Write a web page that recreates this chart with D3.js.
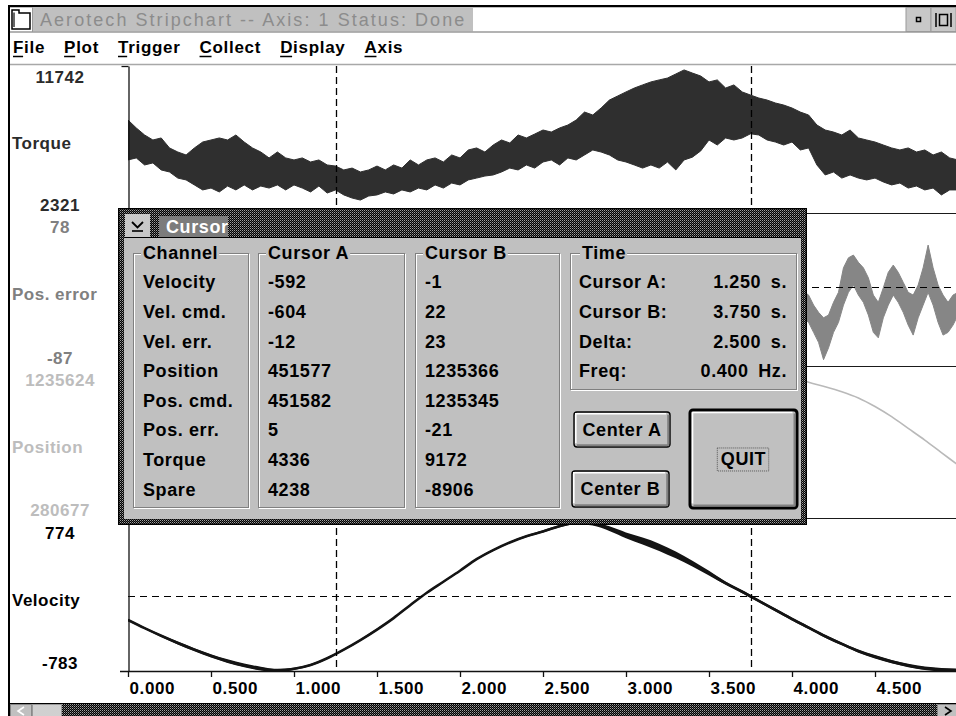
<!DOCTYPE html>
<html>
<head>
<meta charset="utf-8">
<script src="https://cdn.jsdelivr.net/npm/d3@7"></script>
<style>
  html, body { margin: 0; padding: 0; background: #ffffff; }
  svg { display: block; }
  svg text { font-family: "Liberation Sans", Arial, sans-serif; }
</style>
</head>
<body>
<svg id="chart" width="956" height="716"></svg>
<script>
// ---------------- Channel data ----------------
const channelNames  = ["Torque", "Pos. error", "Position", "Velocity"];
const channelMax    = [11742, 78, 1235624, 774];
const channelMin    = [2321, -87, 280677, -783];

// Time axis (seconds)
const timeTicks   = [0, 0.5, 1, 1.5, 2, 2.5, 3, 3.5, 4, 4.5];
const cursorTimes = [1.25, 3.75];

// Torque: upper / lower envelope of the noisy trace, one pair every 0.05 s from 0 to 5 s
const torqueHigh = [
  8280, 7770, 7320, 7000, 7130, 6490, 6230, 6040, 6490, 6870,
  7000, 7130, 7000, 7320, 6870, 6490, 6230, 5850, 6230, 5850,
  5720, 5850, 5590, 5720, 5400, 5330, 5080, 5200, 4950, 5080,
  5330, 5080, 5400, 5200, 5720, 5400, 5720, 5850, 5590, 6040,
  5850, 6360, 6490, 6230, 6680, 7000, 6810, 7320, 7130, 7380,
  7640, 7510, 7770, 7960, 8280, 8790, 8600, 9050, 9560, 9820,
  10080, 10330, 10530, 10720, 10850, 10970, 11230, 11490, 11290, 11100,
  10720, 10850, 10330, 10530, 10080, 9880, 9690, 9560, 9370, 9240,
  9050, 8790, 8600, 7960, 7640, 7510, 7320, 7640, 7130, 7000,
  6870, 6680, 6490, 6360, 6490, 6230, 6360, 6040, 6230, 5850,
  5720
];
const torqueLow = [
  5720, 5850, 5400, 5530, 5080, 4950, 4560, 4440, 4120, 3800,
  3920, 3670, 4050, 3800, 4120, 3800, 4050, 3920, 4120, 3800,
  4120, 3920, 3670, 4050, 3600, 3800, 3480, 3280, 3150, 3410,
  3480, 3670, 3540, 3800, 3670, 3920, 3800, 4120, 3920, 4240,
  4120, 4440, 4560, 4690, 4760, 4950, 5200, 5080, 5400, 5200,
  5590, 5720, 5400, 5850, 5720, 6040, 6360, 6230, 6040, 5720,
  5590, 5400, 5200, 5400, 5200, 5590, 5080, 5720, 5900, 6300,
  7000, 6680, 7130, 7000, 7130, 7400, 7320, 7000, 6870, 6680,
  6870, 6360, 6490, 5400, 4760, 4950, 4560, 4760, 4560, 4440,
  4560, 4310, 4120, 4240, 3920, 4050, 3800, 3920, 3480, 3800,
  3800
];
const torqueStep = 0.05;

// Position error trace (visible tail), pairs every 0.03 s from 4.07 s
const posErrStart = 4.07;
const posErrStep  = 0.03;
const posErrHigh = [-5, -9, -20, -28, -34, -31, -17, -6, 21, 32, 35, 27, 21, 10, -9, -17,
                    -1, 16, 24, 16, 5, -6, -9, 2, 21, 46, 21, 2, -9, -17, -9, -6];
const posErrLow  = [-35, -39, -50, -61, -80, -67, -50, -39, -20, -6, 2, -9, -17, -31, -50, -56,
                    -34, -20, -9, -17, -28, -42, -53, -34, -20, -6, -20, -39, -53, -50, -42, -31];

// Position trace (visible tail)
const positionTimes  = [4.0, 4.1, 4.2, 4.3, 4.4, 4.5, 4.6, 4.7, 4.8, 4.9, 5.0];
const positionValues = [1195000, 1150000, 1122000, 1090000, 1050000, 995000, 930000, 855000, 780000, 700000, 620000];

// Velocity, one sample every 0.1 s from 0 to 5 s, with the half-width of its noise band
const velocityStep = 0.1;
const velocityValues = [
  -250, -335, -415, -490, -560, -625, -680, -725, -758, -778,
  -760, -720, -650, -560, -460, -350, -230, -95, 35, 150,
  265, 385, 480, 560, 625, 675, 730, 765, 755, 705,
  635, 575, 510, 430, 340, 240, 135, 45, -50, -145,
  -240, -330, -420, -500, -575, -635, -685, -725, -755, -770,
  -775
];
const velocitySpread = [
  10, 10, 12, 15, 16, 18, 20, 20, 20, 18,
  12, 10, 10, 10, 10, 10, 8, 8, 8, 8,
  8, 8, 8, 8, 10, 12, 12, 14, 18, 24,
  30, 36, 38, 36, 30, 24, 18, 15, 15, 15,
  15, 15, 15, 15, 16, 18, 18, 18, 18, 18,
  18
];

// Cursor read-out
const readoutChannels = ["Velocity", "Vel. cmd.", "Vel. err.", "Position", "Pos. cmd.", "Pos. err.", "Torque", "Spare"];
const cursorAValues   = [-592, -604, -12, 451577, 451582, 5, 4336, 4238];
const cursorBValues   = [-1, 22, 23, 1235366, 1235345, -21, 9172, -8906];

const menuItems = ["File", "Plot", "Trigger", "Collect", "Display", "Axis"];
const windowTitle = "Aerotech Stripchart -- Axis: 1 Status: Done";

// ---------------- Layout & style ----------------
const W = 956, H = 716;
const panels = [
  { top: 66,  bottom: 213, fill: "#2f2f2f", label: "#2b2b2b" },
  { top: 216, bottom: 366, fill: "#868686", label: "#808080" },
  { top: 369, bottom: 518, fill: "#b9b9b9", label: "#bdbdbd" },
  { top: 522, bottom: 671, fill: "#141414", label: "#000000" }
];
const plotLeft = 128, axisY = 671;
const uiFont = '"Liberation Sans", Arial, sans-serif';
const intText = v => String(v);   // plain ASCII hyphen for negatives

const svg = d3.select("#chart");
const defs = svg.append("defs");

// dithered fill used by the dialog frame and the scroll track
const dither = defs.append("pattern").attr("id", "dither")
  .attr("width", 2).attr("height", 2).attr("patternUnits", "userSpaceOnUse");
dither.append("rect").attr("width", 2).attr("height", 2).attr("fill", "#000");
dither.append("rect").attr("x", 0).attr("y", 0).attr("width", 1).attr("height", 1).attr("fill", "#a0a0a0");
dither.append("rect").attr("x", 1).attr("y", 1).attr("width", 1).attr("height", 1).attr("fill", "#505050");

defs.append("clipPath").attr("id", "plotClip").append("rect")
  .attr("x", plotLeft).attr("y", 66).attr("width", W - plotLeft).attr("height", axisY - 66);

svg.append("rect").attr("width", W).attr("height", H).attr("fill", "#fff");

// ---------------- Scales ----------------
const x = d3.scaleLinear().domain([0, 5]).range([plotLeft, 958]);
const y = panels.map((p, i) => d3.scaleLinear().domain([channelMin[i], channelMax[i]]).range([p.bottom, p.top]));

const plot = svg.append("g").attr("clip-path", "url(#plotClip)");

// Torque band
const torqueData = torqueHigh.map((h, i) => ({ t: i * torqueStep, hi: h, lo: torqueLow[i] }));
plot.append("path").datum(torqueData)
  .attr("d", d3.area().x(d => x(d.t)).y0(d => y[0](d.lo)).y1(d => y[0](d.hi)))
  .attr("fill", panels[0].fill).attr("stroke", panels[0].fill).attr("stroke-width", 1);

// Position error band
const posErrData = posErrHigh.map((h, i) => ({ t: posErrStart + i * posErrStep, hi: h, lo: posErrLow[i] }));
plot.append("path").datum(posErrData)
  .attr("d", d3.area().x(d => x(d.t)).y0(d => y[1](d.lo)).y1(d => y[1](d.hi)))
  .attr("fill", panels[1].fill).attr("stroke", panels[1].fill).attr("stroke-width", 1);

// Position
const positionData = positionTimes.map((t, i) => ({ t, v: positionValues[i] }));
plot.append("path").datum(positionData)
  .attr("d", d3.line().x(d => x(d.t)).y(d => y[2](d.v)).curve(d3.curveMonotoneX))
  .attr("fill", "none").attr("stroke", panels[2].fill).attr("stroke-width", 1.6);

// Velocity: noise band plus centre trace
const velocityData = velocityValues.map((v, i) => ({ t: i * velocityStep, v, s: velocitySpread[i] }));
plot.append("path").datum(velocityData)
  .attr("d", d3.area().x(d => x(d.t)).y0(d => y[3](d.v - d.s)).y1(d => y[3](d.v + d.s)).curve(d3.curveMonotoneX))
  .attr("fill", panels[3].fill);
plot.append("path").datum(velocityData)
  .attr("d", d3.line().x(d => x(d.t)).y(d => y[3](d.v)).curve(d3.curveMonotoneX))
  .attr("fill", "none").attr("stroke", panels[3].fill).attr("stroke-width", 2.6);

// Panel separators
panels.slice(0, 3).forEach(p => {
  svg.append("line").attr("x1", plotLeft).attr("x2", W).attr("y1", p.bottom + 0.5).attr("y2", p.bottom + 0.5)
    .attr("stroke", "#1a1a1a").attr("stroke-width", 1.2);
});

// Zero lines where a channel's range crosses zero
panels.forEach((p, i) => {
  if (channelMin[i] < 0 && channelMax[i] > 0) {
    const yz = Math.round(y[i](0)) + 0.5;
    svg.append("line").attr("x1", plotLeft).attr("x2", W).attr("y1", yz).attr("y2", yz)
      .attr("stroke", "#000").attr("stroke-width", 1.2).attr("stroke-dasharray", "7,5");
  }
});

// Cursor lines
cursorTimes.forEach(t => {
  const xc = Math.round(x(t)) + 0.5;
  svg.append("line").attr("x1", xc).attr("x2", xc).attr("y1", 66).attr("y2", axisY)
    .attr("stroke", "#000").attr("stroke-width", 1.3).attr("stroke-dasharray", "7,4");
});

// Frame axis (left) and time axis (bottom)
const yFrame = d3.scaleLinear().domain([0, 1]).range([axisY, 66]);
const gLeft = svg.append("g").attr("transform", `translate(${plotLeft + 0.5},0)`)
  .call(d3.axisLeft(yFrame).tickValues([1]).tickFormat("").tickSize(7).tickSizeOuter(0));
gLeft.selectAll("path, line").attr("stroke", "#111").attr("stroke-width", 1.3);

svg.append("line").attr("x1", 120).attr("x2", W).attr("y1", axisY + 0.5).attr("y2", axisY + 0.5)
  .attr("stroke", "#111").attr("stroke-width", 1.4);
const gx = svg.append("g").attr("transform", `translate(0,${axisY})`)
  .call(d3.axisBottom(x).tickValues(timeTicks).tickFormat(d3.format(".3f")).tickSize(6).tickPadding(5).tickSizeOuter(0));
gx.select(".domain").remove();
gx.selectAll("line").attr("stroke", "#111").attr("stroke-width", 1.3);
gx.selectAll("text").attr("text-anchor", "start").attr("x", 1)
  .attr("fill", "#000").style("font-family", uiFont).style("font-weight", "bold")
  .style("font-size", "17px").style("letter-spacing", "0.6px");

// Channel labels on the left
panels.forEach((p, i) => {
  const g = svg.append("g").attr("fill", p.label)
    .style("font-weight", "bold").style("font-size", "17px").style("letter-spacing", "0.5px");
  g.append("text").attr("x", 60).attr("y", p.top + 11).attr("dy", "0.36em").attr("text-anchor", "middle")
    .text(intText(channelMax[i]));
  g.append("text").attr("x", 12).attr("y", (p.top + p.bottom) / 2 + 3).attr("dy", "0.36em")
    .text(channelNames[i]);
  g.append("text").attr("x", 60).attr("y", p.bottom - 8).attr("dy", "0.36em").attr("text-anchor", "middle")
    .text(intText(channelMin[i]));
});

// ---------------- Window chrome ----------------
// top border and left border
svg.append("rect").attr("x", 8).attr("y", 5).attr("width", W - 8).attr("height", 2.5).attr("fill", "#000");
svg.append("rect").attr("x", 8).attr("y", 5).attr("width", 2).attr("height", H - 5).attr("fill", "#000");

// caption bar
svg.append("rect").attr("x", 10).attr("y", 7.5).attr("width", W - 10).attr("height", 24).attr("fill", "#fff");
svg.append("rect").attr("x", 33).attr("y", 7.5).attr("width", 440).attr("height", 24).attr("fill", "#c0c0c0");
svg.append("line").attr("x1", 10).attr("x2", W).attr("y1", 32).attr("y2", 32).attr("stroke", "#9a9a9a").attr("stroke-width", 1.5);
svg.append("line").attr("x1", 32.5).attr("x2", 32.5).attr("y1", 7.5).attr("y2", 32).attr("stroke", "#9a9a9a");
// control-menu icon
svg.append("path").attr("d", "M12,10 H19 V13 H30 V29 H12 Z").attr("fill", "#fff").attr("stroke", "#000").attr("stroke-width", 1.5);
svg.append("path").attr("d", "M14,12.5 V27").attr("stroke", "#000").attr("stroke-width", 1.2);
svg.append("text").attr("x", 40).attr("y", 26).attr("fill", "#8c8c8c")
  .style("font-size", "18px").style("letter-spacing", "2.05px").text(windowTitle);
// min / max buttons
svg.append("rect").attr("x", 906).attr("y", 7.5).attr("width", 25).attr("height", 24).attr("fill", "#c8c8c8").attr("stroke", "#9a9a9a");
svg.append("rect").attr("x", 916.5).attr("y", 17.5).attr("width", 4).attr("height", 4).attr("fill", "none").attr("stroke", "#000").attr("stroke-width", 1.5);
svg.append("rect").attr("x", 931).attr("y", 7.5).attr("width", 25).attr("height", 24).attr("fill", "#c8c8c8").attr("stroke", "#9a9a9a");
svg.append("path").attr("d", "M936,13 V27 M951,13 V27").attr("stroke", "#000").attr("stroke-width", 1.5);
svg.append("rect").attr("x", 939.5).attr("y", 14.5).attr("width", 8).attr("height", 11).attr("fill", "none").attr("stroke", "#000").attr("stroke-width", 1.5);

// menu bar
const menuG = svg.append("g").style("font-weight", "bold").style("font-size", "17px").style("letter-spacing", "0.7px");
let mx = 13;
menuItems.forEach(m => {
  const t = menuG.append("text").attr("x", mx).attr("y", 53).attr("fill", "#000").text(m);
  const w = t.node().getComputedTextLength();
  const first = t.node().getSubStringLength(0, 1);
  menuG.append("line").attr("x1", mx).attr("x2", mx + first - 1).attr("y1", 56.5).attr("y2", 56.5)
    .attr("stroke", "#000").attr("stroke-width", 1.5);
  mx += w + 19;
});
svg.append("line").attr("x1", 10).attr("x2", W).attr("y1", 64.5).attr("y2", 64.5).attr("stroke", "#a8a8a8").attr("stroke-width", 1.5);

// horizontal scroll bar
svg.append("rect").attr("x", 10).attr("y", 703).attr("width", W - 10).attr("height", 13).attr("fill", "url(#dither)");
svg.append("rect").attr("x", 10).attr("y", 703).attr("width", W - 10).attr("height", 1).attr("fill", "#000");
svg.append("rect").attr("x", 10.5).attr("y", 704.5).attr("width", 21).attr("height", 12).attr("fill", "#c0c0c0").attr("stroke", "#888");
svg.append("path").attr("d", "M24,707 L18,711 L24,715").attr("fill", "none").attr("stroke", "#fff").attr("stroke-width", 1.6);
svg.append("rect").attr("x", 32.5).attr("y", 704.5).attr("width", 29).attr("height", 12).attr("fill", "#d0d0d0").attr("stroke", "#999");
svg.append("rect").attr("x", 937.5).attr("y", 704.5).attr("width", 19).attr("height", 12).attr("fill", "#c0c0c0").attr("stroke", "#888");
svg.append("path").attr("d", "M945,707 L951,711 L945,715").attr("fill", "none").attr("stroke", "#000").attr("stroke-width", 1.6);

// ---------------- Cursor dialog ----------------
const dlg = svg.append("g").style("font-weight", "bold").style("font-size", "18px").style("letter-spacing", "0.6px");
dlg.append("rect").attr("x", 118).attr("y", 208).attr("width", 689).attr("height", 317).attr("fill", "url(#dither)");
dlg.append("rect").attr("x", 118.5).attr("y", 208.5).attr("width", 688).attr("height", 316).attr("fill", "none").attr("stroke", "#000");
dlg.append("rect").attr("x", 124).attr("y", 238).attr("width", 677).attr("height", 281).attr("fill", "#c0c0c0");
dlg.append("line").attr("x1", 124).attr("x2", 801).attr("y1", 237.5).attr("y2", 237.5).attr("stroke", "#000");

// control box and caption
dlg.append("rect").attr("x", 125).attr("y", 214).attr("width", 25).attr("height", 23).attr("fill", "#c8c8c8");
dlg.append("path").attr("d", "M132,222 L137.5,227.5 L143,222").attr("fill", "none").attr("stroke", "#000").attr("stroke-width", 1.8);
dlg.append("line").attr("x1", 132).attr("x2", 143).attr("y1", 231).attr("y2", 231).attr("stroke", "#000").attr("stroke-width", 1.6);
dlg.append("rect").attr("x", 159).attr("y", 216).attr("width", 69).attr("height", 21).attr("fill", "#7c7c7c");
dlg.append("text").attr("x", 166).attr("y", 226.5).attr("dy", "0.36em").attr("fill", "#fff").text("Cursor");

function groupBox(gx0, gy0, gw, gh, title, tx) {
  dlg.append("rect").attr("x", gx0 + 1.5).attr("y", gy0 + 1.5).attr("width", gw).attr("height", gh)
    .attr("fill", "none").attr("stroke", "#fff");
  dlg.append("rect").attr("x", gx0 + 0.5).attr("y", gy0 + 0.5).attr("width", gw).attr("height", gh)
    .attr("fill", "none").attr("stroke", "#808080");
  const bg = dlg.append("rect").attr("fill", "#c0c0c0");
  const t = dlg.append("text").attr("x", tx).attr("y", gy0).attr("dy", "0.36em").attr("fill", "#000").text(title);
  const bb = t.node().getBBox();
  bg.attr("x", bb.x - 2).attr("y", gy0 - 3).attr("width", bb.width + 3).attr("height", 6);
}

const rowY = i => 282 + i * 29.6;

groupBox(133, 253, 115, 254, "Channel", 143);
groupBox(258, 253, 146, 254, "Cursor A", 268);
groupBox(415, 253, 144, 254, "Cursor B", 425);
groupBox(570, 253, 226, 136, "Time", 582);

readoutChannels.forEach((c, i) => {
  dlg.append("text").attr("x", 143).attr("y", rowY(i)).attr("dy", "0.36em").text(c);
  dlg.append("text").attr("x", 268).attr("y", rowY(i)).attr("dy", "0.36em").text(intText(cursorAValues[i]));
  dlg.append("text").attr("x", 425).attr("y", rowY(i)).attr("dy", "0.36em").text(intText(cursorBValues[i]));
});

const delta = cursorTimes[1] - cursorTimes[0];
const timeRows = [
  ["Cursor A:", d3.format(".3f")(cursorTimes[0]) + " s."],
  ["Cursor B:", d3.format(".3f")(cursorTimes[1]) + " s."],
  ["Delta:",    d3.format(".3f")(delta) + " s."],
  ["Freq:",     d3.format(".3f")(1 / delta) + " Hz."]
];
timeRows.forEach((r, i) => {
  dlg.append("text").attr("x", 579).attr("y", rowY(i)).attr("dy", "0.36em").text(r[0]);
  dlg.append("text").attr("x", 787).attr("y", rowY(i)).attr("dy", "0.36em").attr("text-anchor", "end")
    .style("word-spacing", "4px").text(r[1]);
});

function button(bx, by, bw, bh, label, isDefault) {
  const sw = isDefault ? 3 : 1.4;
  dlg.append("rect").attr("x", bx).attr("y", by).attr("width", bw).attr("height", bh).attr("rx", 3)
    .attr("fill", "#c0c0c0").attr("stroke", "#000").attr("stroke-width", sw);
  const k = isDefault ? 2.5 : 1.8;
  dlg.append("path").attr("d", `M${bx + k},${by + bh - k - 2} V${by + k} H${bx + bw - k - 2}`)
    .attr("fill", "none").attr("stroke", "#fff").attr("stroke-width", 1.6);
  dlg.append("path").attr("d", `M${bx + k + 1},${by + bh - k} H${bx + bw - k} V${by + k + 1}`)
    .attr("fill", "none").attr("stroke", "#808080").attr("stroke-width", 2);
  const t = dlg.append("text").attr("x", bx + bw / 2).attr("y", by + bh / 2).attr("dy", "0.36em")
    .attr("text-anchor", "middle").attr("fill", "#000").text(label);
  if (isDefault) {
    const bb = t.node().getBBox();
    dlg.append("rect").attr("x", bb.x - 3.5).attr("y", bb.y - 1.5).attr("width", bb.width + 6).attr("height", bb.height + 3)
      .attr("fill", "none").attr("stroke", "#555").attr("stroke-dasharray", "1,1");
  }
}
button(574, 412, 96, 35, "Center A", false);
button(572, 471, 97, 36, "Center B", false);
button(690, 410, 107, 98, "QUIT", true);
</script>
</body>
</html>
